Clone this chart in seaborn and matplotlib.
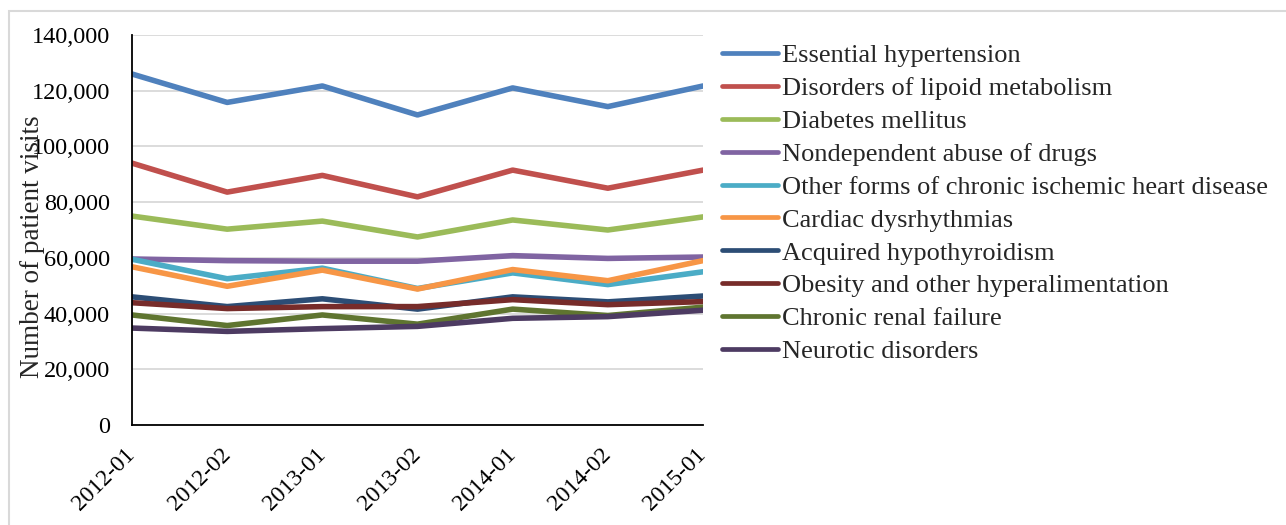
import matplotlib
matplotlib.use("Agg")
import matplotlib.pyplot as plt
import seaborn as sns
import pandas as pd
from matplotlib.patches import Rectangle

periods = ["2012-01", "2012-02", "2013-01", "2013-02", "2014-01", "2014-02", "2015-01"]

essential_hypertension = [126000, 115800, 121700, 111300, 121000, 114300, 121700]
lipoid_metabolism = [94000, 83600, 89600, 81900, 91500, 85000, 91500]
diabetes_mellitus = [75000, 70300, 73200, 67500, 73600, 70000, 74700]
nondependent_abuse = [59600, 59000, 58800, 58800, 60800, 59800, 60300]
ischemic_heart = [59500, 52500, 56300, 49000, 54600, 50400, 55000]
cardiac_dysrhythmias = [56800, 49800, 55600, 48800, 55800, 51800, 59000]
hypothyroidism = [46000, 42500, 45300, 41600, 46000, 44200, 46300]
obesity = [43900, 41800, 42500, 42500, 45000, 43200, 44300]
renal_failure = [39500, 35700, 39500, 36200, 41600, 39300, 42300]
neurotic = [34800, 33600, 34600, 35400, 38300, 38900, 41200]

series_names = [
    "Essential hypertension",
    "Disorders of lipoid metabolism",
    "Diabetes mellitus",
    "Nondependent abuse of drugs",
    "Other forms of chronic ischemic heart disease",
    "Cardiac dysrhythmias",
    "Acquired hypothyroidism",
    "Obesity and other hyperalimentation",
    "Chronic renal failure",
    "Neurotic disorders",
]
series_values = [
    essential_hypertension, lipoid_metabolism, diabetes_mellitus, nondependent_abuse,
    ischemic_heart, cardiac_dysrhythmias, hypothyroidism, obesity, renal_failure, neurotic,
]
colors = ["#4F81BD", "#C0504D", "#9BBB59", "#8064A2", "#4BACC6",
          "#F79646", "#2C4D75", "#772C2A", "#5F7530", "#4D3B62"]

rows = []
for name, vals in zip(series_names, series_values):
    for p, v in zip(periods, vals):
        rows.append({"Period": p, "Visits": v, "Series": name})
df = pd.DataFrame(rows)

sns.set_theme(style="white")
plt.rcParams["font.family"] = ["Liberation Serif", "DejaVu Serif"]

fs_tick = 17.5
fs_leg = 19
fig = plt.figure(figsize=(12.86, 5.25), dpi=100)
ax = fig.add_axes([132 / 1286, 1 - 425 / 525, (703 - 132) / 1286, (425 - 35) / 525])

sns.lineplot(data=df, x="Period", y="Visits", hue="Series", hue_order=series_names,
             palette=colors, linewidth=4.0, sort=False, ax=ax, legend=False)

ax.set_xlim(0, len(periods) - 1)
ax.set_ylim(0, 140000)
ax.set_yticks(range(0, 140001, 20000))
ax.set_yticklabels([f"{v:,}" for v in range(0, 140001, 20000)], fontsize=fs_tick)
ax.set_xticks(range(len(periods)))
ax.set_xticklabels(periods, fontsize=17, rotation=45, ha="right", va="center",
                   rotation_mode="anchor")
ax.yaxis.grid(True, color="#D9D9D9", linewidth=1.3)
ax.set_axisbelow(True)
ax.set_xlabel("")
ax.set_ylabel("Number of patient visits", fontsize=19.5)
ax.yaxis.set_label_coords((33 - 132) / 571, (425 - 247) / 390)
ax.yaxis.label.set_va("center")
for s in ["top", "right"]:
    ax.spines[s].set_visible(False)
for s in ["left", "bottom"]:
    ax.spines[s].set_color("black")
    ax.spines[s].set_linewidth(1.3)
ax.tick_params(axis="both", direction="in", length=5, width=1.2, color="black",
               labelcolor="black")
ax.tick_params(axis="x", pad=19)
ax.tick_params(axis="y", pad=16)

handles = [plt.Line2D([], [], color=c, linewidth=3.4, solid_capstyle="round") for c in colors]
fig.legend(handles, series_names, loc="upper left", bbox_to_anchor=(722 / 1286, 1 - 44 / 525),
           frameon=False, fontsize=fs_leg, handlelength=2.12, handletextpad=0.15,
           labelspacing=0.355, borderpad=0, borderaxespad=0)

fig.patches.append(Rectangle((8.5 / 1286, -0.1), 1.2, 1 - 11 / 525 + 0.1,
                             transform=fig.transFigure, fill=False,
                             edgecolor="#D9D9D9", linewidth=1.5))

fig.savefig("out.png", dpi=100, facecolor="white")
